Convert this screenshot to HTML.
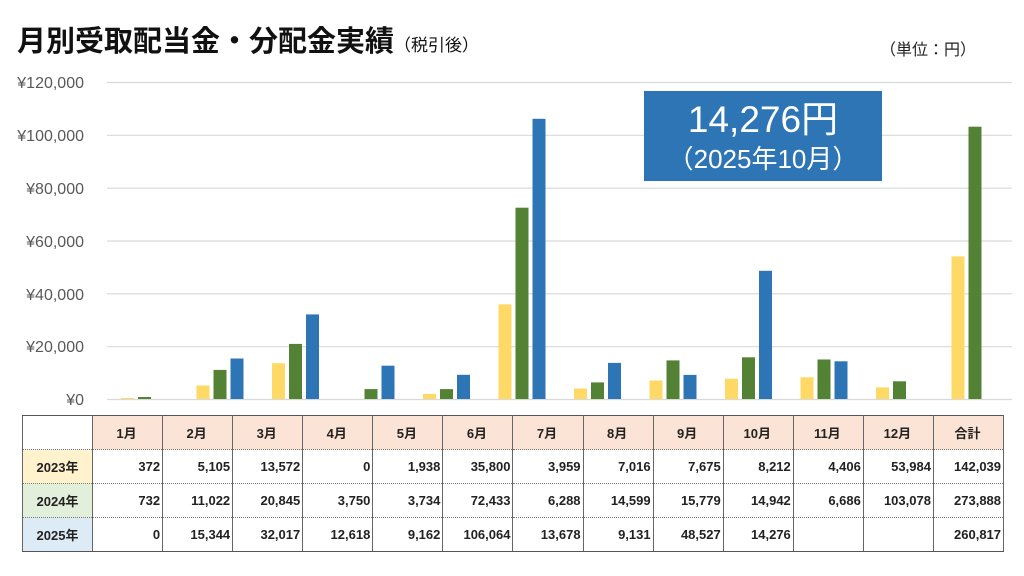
<!DOCTYPE html>
<html><head><meta charset="utf-8">
<style>
html,body{margin:0;padding:0;background:#fff;}
body{width:1024px;height:576px;position:relative;overflow:hidden;font-family:"Liberation Sans","Noto Sans CJK JP",sans-serif;}
.t{position:absolute;white-space:nowrap;}
table{position:absolute;left:22px;top:415px;border-collapse:collapse;table-layout:fixed;width:981px;font-family:"Liberation Sans","Noto Sans CJK JP",sans-serif;font-weight:bold;font-size:13px;color:#222;}
td{border-left:1.5px solid #666;border-right:1.5px solid #666;height:33px;padding:0 2px 0 0;text-align:right;border-bottom:1.5px dotted #777;}
tr:first-child td{background:#fbe4d5;text-align:center;border-top:1.5px solid #555;}
tr:last-child td{border-bottom:1.5px solid #555;}
td.h{text-align:center;padding:0;}
tr:first-child td.h{background:#fff;}
</style></head><body>
<div class="t" style="left:17px;top:18px;font-size:29px;font-weight:bold;color:#111;font-family:'Noto Sans CJK JP',sans-serif;">月別受取配当金・分配金実績<span style="font-size:17px;font-weight:normal;">（税引後）</span></div>
<div class="t" style="left:880px;top:36px;font-size:16px;color:#222;font-family:'Noto Sans CJK JP',sans-serif;">（単位：円）</div>
<svg width="1024" height="576" style="position:absolute;left:0;top:0" xmlns="http://www.w3.org/2000/svg">
<g stroke="#d9d9d9" stroke-width="1.2">
<line x1="107" x2="1012" y1="82.5" y2="82.5"/><line x1="107" x2="1012" y1="135.3" y2="135.3"/><line x1="107" x2="1012" y1="188.2" y2="188.2"/><line x1="107" x2="1012" y1="241" y2="241"/><line x1="107" x2="1012" y1="293.8" y2="293.8"/><line x1="107" x2="1012" y1="346.7" y2="346.7"/><line x1="107" x2="1012" y1="399.5" y2="399.5"/>
</g>
<g font-family="Liberation Sans, sans-serif" font-size="16" fill="#595959" text-anchor="end">
<text x="84" y="88">¥120,000</text><text x="84" y="141">¥100,000</text><text x="84" y="194">¥80,000</text><text x="84" y="247">¥60,000</text><text x="84" y="300">¥40,000</text><text x="84" y="352">¥20,000</text><text x="84" y="405">¥0</text>
</g>
<g fill="#ffd966">
<rect x="121" y="398" width="13" height="1"/>
<rect x="196.5" y="385.5" width="13" height="13.5"/>
<rect x="272" y="363.2" width="13" height="35.8"/>
<rect x="423" y="393.9" width="13" height="5.1"/>
<rect x="498.5" y="304.4" width="13" height="94.6"/>
<rect x="574" y="388.5" width="13" height="10.5"/>
<rect x="649.5" y="380.5" width="13" height="18.5"/>
<rect x="725" y="378.7" width="13" height="20.3"/>
<rect x="800.5" y="377.3" width="13" height="21.7"/>
<rect x="876" y="387.4" width="13" height="11.6"/>
<rect x="951.5" y="256.4" width="13" height="142.6"/>
</g>
<g fill="#548235">
<rect x="138" y="397" width="13" height="2"/>
<rect x="213.5" y="369.9" width="13" height="29.1"/>
<rect x="289" y="343.9" width="13" height="55.1"/>
<rect x="364.5" y="389.1" width="13" height="9.9"/>
<rect x="440" y="389.1" width="13" height="9.9"/>
<rect x="515.5" y="207.7" width="13" height="191.3"/>
<rect x="591" y="382.4" width="13" height="16.6"/>
<rect x="666.5" y="360.4" width="13" height="38.6"/>
<rect x="742" y="357.3" width="13" height="41.7"/>
<rect x="817.5" y="359.5" width="13" height="39.5"/>
<rect x="893" y="381.3" width="13" height="17.7"/>
<rect x="968.5" y="126.7" width="13" height="272.3"/>
</g>
<g fill="#2e75b6">
<rect x="230.5" y="358.5" width="13" height="40.5"/>
<rect x="306" y="314.4" width="13" height="84.6"/>
<rect x="381.5" y="365.7" width="13" height="33.3"/>
<rect x="457" y="374.8" width="13" height="24.2"/>
<rect x="532.5" y="118.8" width="13" height="280.2"/>
<rect x="608" y="362.9" width="13" height="36.1"/>
<rect x="683.5" y="374.9" width="13" height="24.1"/>
<rect x="759" y="270.8" width="13" height="128.2"/>
<rect x="834.5" y="361.3" width="13" height="37.7"/>
</g>
<rect x="644" y="91" width="238" height="90" fill="#2e75b6"/>
<text x="763" y="132" text-anchor="middle" fill="#fff" font-size="37" font-family="Liberation Sans, Noto Sans CJK JP, sans-serif">14,276円</text>
<text x="763" y="168" text-anchor="middle" fill="#fff" font-size="26" font-family="Liberation Sans, Noto Sans CJK JP, sans-serif">（2025年10月）</text>
</svg>
<table>
<colgroup><col style="width:70px"><col span="13" style="width:70.08px"></colgroup>
<tr><td class="h"></td><td>1月</td><td>2月</td><td>3月</td><td>4月</td><td>5月</td><td>6月</td><td>7月</td><td>8月</td><td>9月</td><td>10月</td><td>11月</td><td>12月</td><td>合計</td></tr>
<tr><td class="h" style="background:#fff2cc">2023年</td><td>372</td><td>5,105</td><td>13,572</td><td>0</td><td>1,938</td><td>35,800</td><td>3,959</td><td>7,016</td><td>7,675</td><td>8,212</td><td>4,406</td><td>53,984</td><td>142,039</td></tr>
<tr><td class="h" style="background:#e2efda">2024年</td><td>732</td><td>11,022</td><td>20,845</td><td>3,750</td><td>3,734</td><td>72,433</td><td>6,288</td><td>14,599</td><td>15,779</td><td>14,942</td><td>6,686</td><td>103,078</td><td>273,888</td></tr>
<tr><td class="h" style="background:#ddebf7">2025年</td><td>0</td><td>15,344</td><td>32,017</td><td>12,618</td><td>9,162</td><td>106,064</td><td>13,678</td><td>9,131</td><td>48,527</td><td>14,276</td><td></td><td></td><td>260,817</td></tr>
</table>
</body></html>
